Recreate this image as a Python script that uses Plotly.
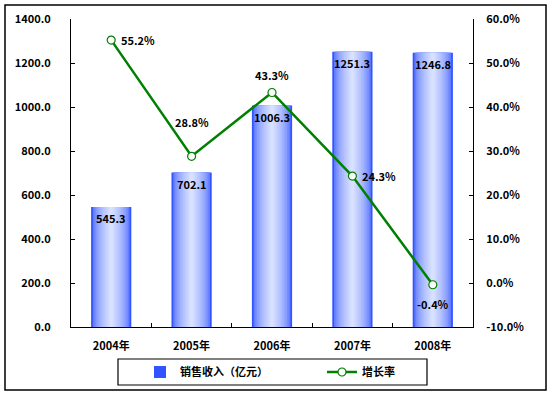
import plotly.graph_objects as go

years = ["2004年", "2005年", "2006年", "2007年", "2008年"]
revenue = [545.3, 702.1, 1006.3, 1251.3, 1246.8]
growth = [55.2, 28.8, 43.3, 24.3, -0.4]
revenue_labels = ["545.3", "702.1", "1006.3", "1251.3", "1246.8"]
growth_labels = ["55.2%", "28.8%", "43.3%", "24.3%", "-0.4%"]
left_ticks = [0, 200, 400, 600, 800, 1000, 1200, 1400]
right_ticks = [-10, 0, 10, 20, 30, 40, 50, 60]

FONT = "Noto Sans CJK SC, sans-serif"

W, H = 554, 397
ml, mr, mt, mb = 71, 81, 19, 70
pw, ph = W - ml - mr, H - mt - mb


def px_x(p):
    return (p - ml) / pw


def px_y(p):
    return (H - mb - p) / ph


fig = go.Figure()

# gradient bars via overlaid layers
edge = (48, 82, 255)
center = (216, 225, 255)
n = 12
full = 0.5
for i in range(n):
    w = full * (1 - i / n)
    t = (i / (n - 1)) ** 0.5
    c = tuple(int(edge[k] + (center[k] - edge[k]) * t) for k in range(3))
    fig.add_trace(go.Bar(
        x=years, y=revenue, width=w,
        marker=dict(color="rgb(%d,%d,%d)" % c, line=dict(width=0)),
        name="销售收入（亿元）", showlegend=(i == 0), legend="legend",
        legendgroup="rev", hoverinfo="skip",
    ))

label_font = dict(family=FONT, size=11, color="black", weight="bold")

# bar value labels (inside top of each bar)
for yr, v, lab in zip(years, revenue, revenue_labels):
    fig.add_annotation(x=yr, y=v, text=lab, showarrow=False,
                       yanchor="middle", yshift=-11, font=label_font)

fig.add_trace(go.Scatter(
    x=years, y=growth, yaxis="y2", mode="lines+markers",
    name="增长率", legend="legend2",
    line=dict(color="#008000", width=2.5),
    marker=dict(symbol="circle", size=8, color="white",
                line=dict(color="#008000", width=1.2)),
))

# label placement: (xanchor, xshift, yshift)
placements = [("left", 8, 0), ("center", 0, 34), ("center", 0, 17),
              ("left", 8, 0), ("center", 0, -19)]
for yr, g, lab, (xa, dx, dy) in zip(years, growth, growth_labels, placements):
    fig.add_annotation(x=yr, y=g, yref="y2", text=lab, showarrow=False,
                       xanchor=xa, xshift=dx, yshift=dy, font=label_font)

# outer border
fig.add_shape(type="rect", xref="paper", yref="paper",
              x0=px_x(5), x1=px_x(546), y0=px_y(390), y1=px_y(5),
              line=dict(color="black", width=1.5), fillcolor="rgba(0,0,0,0)",
              layer="below")
# legend box
fig.add_shape(type="rect", xref="paper", yref="paper",
              x0=px_x(118), x1=px_x(427), y0=px_y(385), y1=px_y(359),
              line=dict(color="black", width=1.2), fillcolor="rgba(0,0,0,0)")

legend_font = dict(family=FONT, size=11, weight="bold", color="black")
fig.update_layout(
    width=W, height=H,
    margin=dict(l=ml, r=mr, t=mt, b=mb, autoexpand=False),
    paper_bgcolor="white", plot_bgcolor="white",
    barmode="overlay",
    font=dict(family=FONT, size=11, color="black", weight="bold"),
    xaxis=dict(type="category", showline=True, linecolor="black", linewidth=1,
               ticks="inside", ticklen=4, tickcolor="black", tickson="boundaries",
               showgrid=False, range=[-0.5, 4.5], ticklabelstandoff=9),
    yaxis=dict(range=[0, 1400], tickvals=left_ticks, tickformat=".1f",
               showline=True, linecolor="black", linewidth=1,
               ticks="inside", ticklen=4, tickcolor="black",
               showgrid=False, zeroline=False, ticklabelstandoff=17),
    yaxis2=dict(range=[-10, 60], tickvals=right_ticks, overlaying="y", side="right",
                ticktext=["%.1f%%" % v for v in right_ticks],
                showline=True, linecolor="black", linewidth=1,
                ticks="inside", ticklen=4, tickcolor="black",
                showgrid=False, zeroline=False, ticklabelstandoff=10),
    legend=dict(orientation="h", x=px_x(140), y=px_y(372),
                xanchor="left", yanchor="middle", borderwidth=0,
                bgcolor="rgba(0,0,0,0)", font=legend_font),
    legend2=dict(orientation="h", x=px_x(322), y=px_y(372),
                 xanchor="left", yanchor="middle", borderwidth=0,
                 bgcolor="rgba(0,0,0,0)", font=legend_font),
    showlegend=True,
)

fig.write_html("out.html", config={"displayModeBar": False},
               post_script="document.body.style.margin='0';")
